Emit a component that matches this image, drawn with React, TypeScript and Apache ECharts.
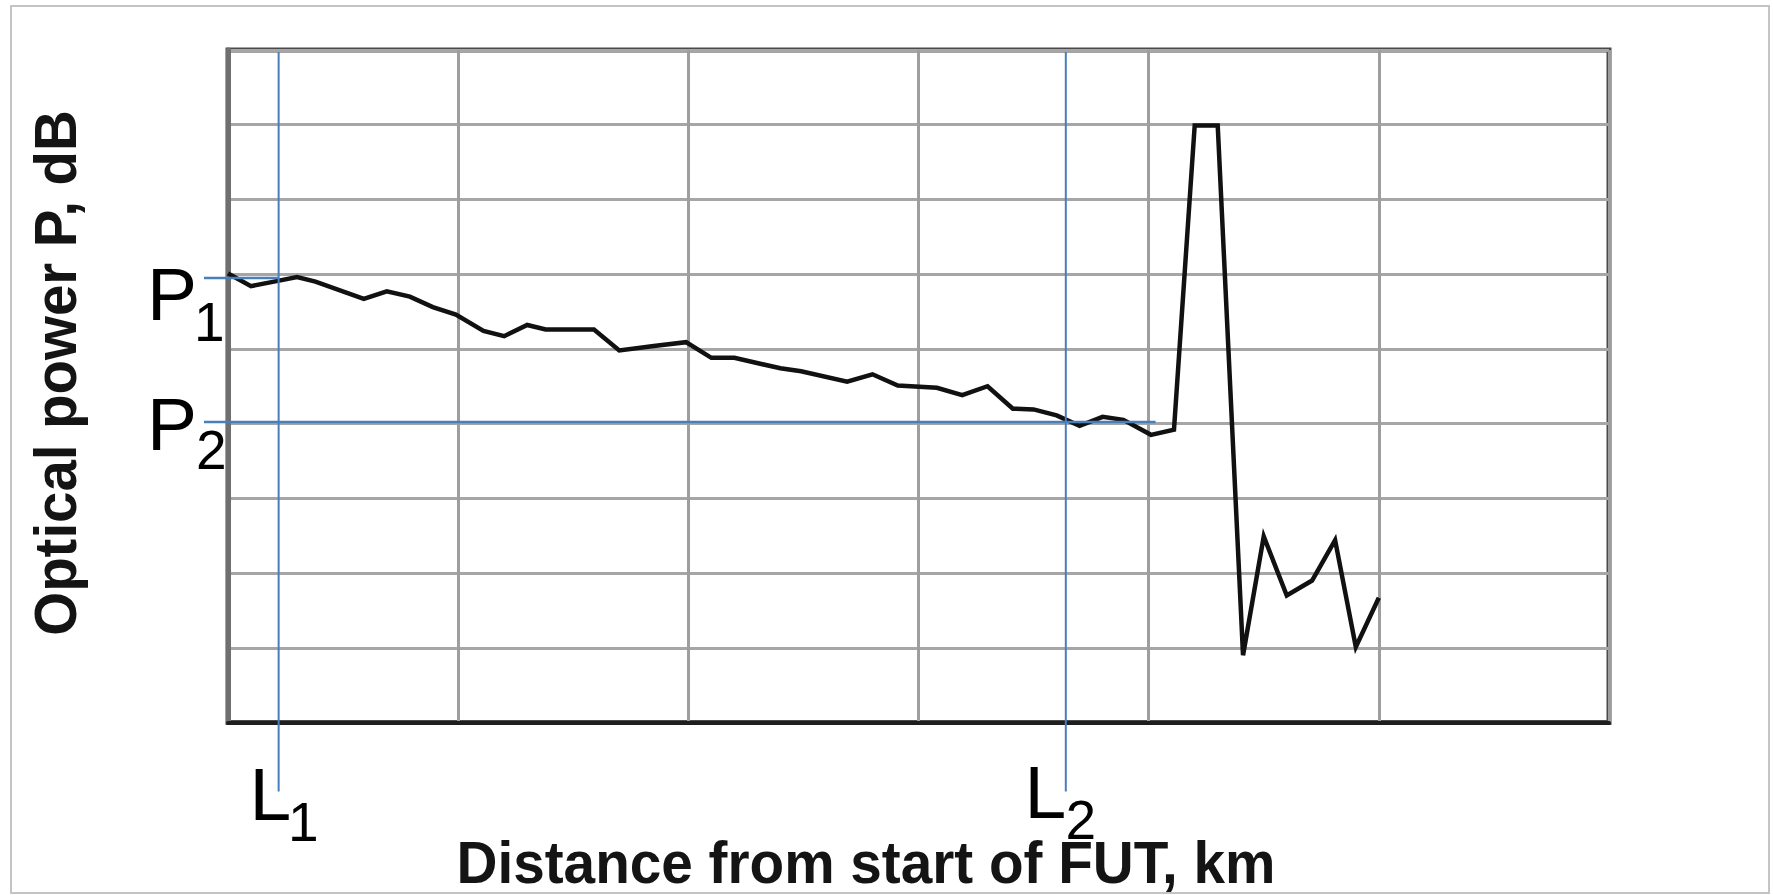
import React, { useEffect, useRef } from "react";
import * as echarts from "echarts";

// Trace (x in grid divisions of distance, y in grid divisions of power)
const DISTANCE_KM = [
  0.0, 0.1, 0.2, 0.3, 0.38, 0.59, 0.69, 0.79, 0.89, 0.99, 1.11, 1.2, 1.3, 1.38, 1.59,
  1.7, 1.85, 1.99, 2.1, 2.2, 2.4, 2.49, 2.69, 2.8, 2.91, 3.08, 3.19, 3.3, 3.41, 3.5,
  3.6, 3.7, 3.8, 3.89, 4.01, 4.11, 4.2, 4.3, 4.41, 4.5, 4.6, 4.71, 4.81, 4.9, 5.0,
];
const POWER_DB = [
  6.01, 5.84, 5.9, 5.96, 5.9, 5.67, 5.77, 5.7, 5.56, 5.46, 5.24, 5.17, 5.32, 5.26, 5.26,
  4.98, 5.04, 5.09, 4.88, 4.88, 4.74, 4.7, 4.56, 4.66, 4.51, 4.48, 4.38, 4.5, 4.2, 4.19,
  4.11, 3.97, 4.09, 4.05, 3.85, 3.92, 7.99, 7.99, 0.9, 2.49, 1.7, 1.9, 2.44, 1.01, 1.67,
];

// Axis extents (unlabelled grid)
const X_MIN = 0;
const X_MAX = 6;
const Y_MIN = 0;
const Y_MAX = 9;

// Marker values
const L1_KM = 0.22;
const L2_KM = 3.64;
const P1_DB = 5.95;
const P2_DB = 4.02;
const P2_END_KM = 4.03;

const X_TITLE = "Distance from start of FUT, km";
const Y_TITLE = "Optical power P, dB";

const FONT = "'Liberation Sans', Arial, Helvetica, sans-serif";
const BLUE = "#4a7ebb";

export default function App() {
  const ref = useRef<HTMLDivElement>(null);

  useEffect(() => {
    if (!ref.current) return;
    const chart = echarts.init(ref.current, null, { renderer: "svg" });
    const data = DISTANCE_KM.map((x, i) => [x, POWER_DB[i]]);

    chart.setOption({
      animation: false,
      backgroundColor: "#ffffff",
      grid: {
        left: 228,
        right: 164,
        top: 50,
        bottom: 172.5,
        show: true,
        borderColor: "#4a4a4a",
        borderWidth: 5,
        outerBoundsMode: "none",
      },
      xAxis: {
        type: "value",
        min: X_MIN,
        max: X_MAX,
        interval: 1,
        axisLabel: { show: false },
        axisTick: { show: false },
        axisLine: { show: true, lineStyle: { color: "#1e1e1e", width: 4 } },
        splitLine: { show: true, lineStyle: { color: "#9e9e9e", width: 3 } },
      },
      yAxis: {
        type: "value",
        min: Y_MIN,
        max: Y_MAX,
        interval: 1,
        axisLabel: { show: false },
        axisTick: { show: false },
        axisLine: { show: true, lineStyle: { color: "#6f6f6f", width: 5 } },
        splitLine: { show: true, lineStyle: { color: "#a6a6a6", width: 3 } },
      },
      series: [
        {
          type: "line",
          data,
          showSymbol: false,
          symbol: "none",
          lineStyle: { color: "#111111", width: 4.5, join: "miter" },
          z: 5,
        },
      ],
    });

    const px = (x: number, y: number) =>
      chart.convertToPixel({ gridIndex: 0 }, [x, y]) as number[];
    const [l1x, p1y] = px(L1_KM, P1_DB);
    const [l2x, p2y] = px(L2_KM, P2_DB);
    const [p2end] = px(P2_END_KM, P2_DB);
    const [gridLeft, gridTop] = px(X_MIN, Y_MAX);
    const [, gridBottom] = px(X_MIN, Y_MIN);

    const lineTop = gridTop + 2;
    const lineBottom = gridBottom + 69;
    const pStart = gridLeft - 24;

    const txt = (
      text: string,
      x: number,
      y: number,
      size: number,
      extra: any = {}
    ) => ({
      type: "text",
      x,
      y,
      z: 100,
      ...extra,
      style: {
        text,
        fill: extra.fill || "#000000",
        fontSize: size,
        fontFamily: FONT,
        fontWeight: extra.fontWeight || "normal",
        align: extra.align || "left",
        textAlign: extra.align || "left",
        verticalAlign: "middle",
        textVerticalAlign: "middle",
      },
    });

    chart.setOption({
      graphic: [
        {
          type: "rect",
          z: 0,
          shape: { x: 11, y: 6, width: 1758, height: 887 },
          style: { fill: "none", stroke: "#c4c4c4", lineWidth: 2 },
        },
        {
          type: "line",
          z: 90,
          shape: { x1: l1x, y1: lineTop, x2: l1x, y2: lineBottom },
          style: { stroke: BLUE, lineWidth: 2 },
        },
        {
          type: "line",
          z: 90,
          shape: { x1: l2x, y1: lineTop, x2: l2x, y2: lineBottom },
          style: { stroke: BLUE, lineWidth: 2 },
        },
        {
          type: "line",
          z: 90,
          shape: { x1: pStart, y1: p1y, x2: l1x, y2: p1y },
          style: { stroke: BLUE, lineWidth: 2.5 },
        },
        {
          type: "line",
          z: 90,
          shape: { x1: pStart, y1: p2y, x2: p2end, y2: p2y },
          style: { stroke: BLUE, lineWidth: 2.5 },
        },
        txt("P", 147, 294, 75),
        txt("1", 194, 321.5, 55),
        txt("P", 147, 424, 75),
        txt("2", 196, 450, 55),
        txt("L", 249.5, 794, 75),
        txt("1", 288, 822, 55),
        txt("L", 1024.5, 792, 75),
        txt("2", 1065.5, 819.5, 55),
        txt(X_TITLE, 866, 862, 60, {
          fontWeight: "bold",
          align: "center",
          fill: "#141414",
          scaleX: 0.945,
        }),
        txt(Y_TITLE, 55, 373, 60, {
          fontWeight: "bold",
          align: "center",
          fill: "#141414",
          scaleX: 0.94,
          rotation: Math.PI / 2,
        }),
      ],
    });

    return () => chart.dispose();
  }, []);

  return (
    <div
      ref={ref}
      style={{ position: "fixed", left: 0, top: 0, width: 1773, height: 895 }}
    />
  );
}
